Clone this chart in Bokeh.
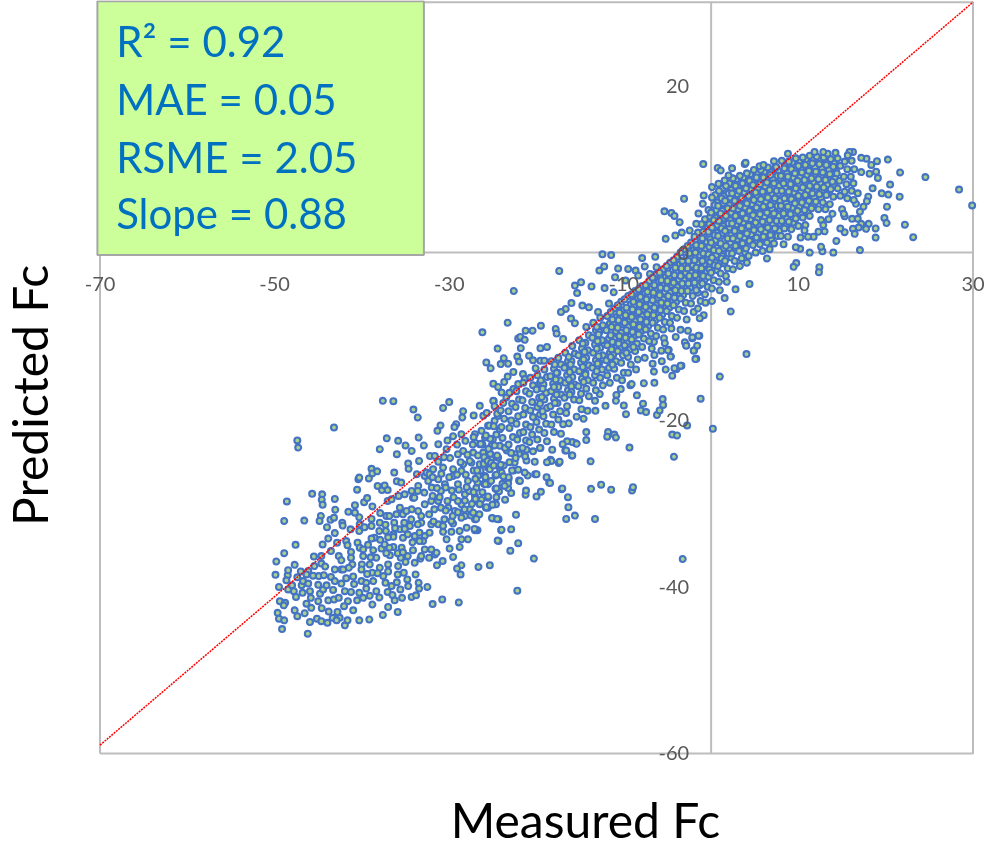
from bokeh.plotting import figure
from bokeh.embed import file_html
from bokeh.resources import INLINE
from bokeh.models import Range1d, FixedTicker, BoxAnnotation, Label, ColumnDataSource

# (measured, predicted), region by region
points_low = [(-43.2,-20.95),(-47.4,-22.5),(-47.3,-23.35),(-37.6,-17.75),(-36.4,-17.8),(-34.1,-18.8),(-33.6,-19.75),(-30.7,-18.6),(-30,-17.9),(-28.4,-19),(-28.5,-19.75),(-26.5,-18.35),(-24.9,-17.8),(-27.2,-19.5),(-26.1,-19.55),(-24.4,-19.55),(-31,-20.7),(-31.35,-21.35),(-29.2,-20.55),(-29.4,-20.9),(-33.5,-22.15),(-37.15,-22.25),(-35.85,-22.55),(-35,-23.1),(-32.9,-23.1),(-37.95,-23.55),(-34.3,-23.75),(-36,-24.15),
(-49.8,-37),(-49.9,-38.6),(-48.9,-36),(-47.6,-35),(-48.9,-32.15),(-46.6,-32.1),(-48.6,-29.8),(-45.7,-28.9),(-44.55,-28.95),(-44.6,-29.6),(-44.5,-30.2),(-43.1,-29.5),(-43.05,-30.8),(-44.7,-31.55),(-44.85,-32.15),(-43.6,-32),(-43.2,-31.75),(-44,-32.9),(-42.25,-32.35),(-42.2,-32.7),(-41.55,-31.05),(-40.8,-31.15),(-40.8,-30.25),(-40.55,-28.4),(-40.4,-27.15),(-40.3,-26.95),(-39.2,-27.05),(-38.9,-25.9),(-38.8,-26.45),(-38.25,-26.2),(-36.3,-26.35),(-38.2,-27.95),(-37.7,-28.45),(-37.4,-27.9),(-37.05,-28.45),(-36,-27.4),(-35.5,-27.55),(-39.75,-29.9),(-39.4,-29.4),(-38.8,-30.4),(-37.05,-29.75),(-36.6,-29.55),(-35.8,-29.15),(-35.1,-28.95),(-35.65,-30.55),(-34.3,-28.55),(-33.55,-27.95),(-32.8,-26.75),(-32.6,-26.35),(-31.85,-25.95),(-33.7,-26.55),
(-49.65,-43.15),(-49.5,-43.85),(-48.9,-44.05),(-49.15,-45.1),(-46.2,-45.65),(-45.95,-44.25),(-45.15,-43.85),(-44.65,-44.15),(-43.95,-44.35),(-43.35,-43.75),(-42.8,-43.05),(-42.55,-43.75),(-42.9,-44.05),(-41.95,-44.65),(-41.65,-44.05),(-40.3,-44.05),(-39.15,-43.95),(-47.7,-42.85),(-47.4,-43.55),(-46.55,-43.2),(-49.4,-41.75),(-48.8,-41.95),(-48.95,-42.25),(-49.5,-40.05),(-48.45,-40.35),(-48,-39.85),(-47.8,-40.55),(-47.55,-41.25),(-48.5,-38.65),(-48.45,-38.05),(-48.65,-39.25),
(-46.9,-39.85),(-46.75,-39.35),(-46.8,-40.75),(-46.15,-39.65),(-45.95,-40.55),(-45.85,-41.35),(-46.35,-42.05),(-45.8,-42.55),(-45,-41.75),(-44.8,-40.85),(-44.45,-40.35),(-44.05,-39.85),(-44.95,-38.75),(-44.35,-38.65),(-43.55,-38.85),(-43.1,-37.95),(-42.35,-37.95),(-42.65,-36.35),(-42.35,-36.85),(-43.1,-39.35),(-42.35,-39.65),(-41.95,-40.55),(-41.25,-40.65),(-40.3,-40.75),(-41.6,-41.75),(-42.05,-42.35),(-41,-42.85),(-40.55,-41.65),(-39.85,-41.35),(-43.85,-41.65),(-43.2,-41.55),(-42.65,-41.35),
(-44.65,-36.35),(-44.65,-37.25),(-45.45,-37.55),(-46.15,-38.15),(-46.35,-38.55),(-44.5,-34.95),(-43.55,-35.75),(-43.85,-34.25),(-42.85,-34.75),(-41.8,-34.55),(-41.65,-35.05),(-41.3,-33.15),(-40.25,-32.55),(-40.3,-33.35),(-40.5,-34.75),(-40.25,-35.35),(-39.85,-35.55),(-41.25,-35.85),(-41.25,-36.55),(-39.85,-36.35),(-41.1,-37.35),(-40,-37.35),(-40.05,-37.95),(-41.5,-37.75),(-42.15,-37.95),
(-38.9,-32.75),(-37.95,-32.35),(-37.2,-31.55),(-36.05,-31.35),(-35.3,-31.35),(-34.3,-30.75),(-33.2,-31.55),(-33.55,-30.95),(-38.55,-34.15),(-38.9,-34.25),(-36.4,-33.75),(-36.4,-34.05),(-35.3,-34.15),(-35.65,-33.15),(-34.5,-32.75),(-33.2,-32.35),(-32.05,-32.55),(-38.7,-35.65),(-37.75,-35.45),(-36.4,-35.25),(-35.45,-35.35),(-38.35,-36.55),(-36.8,-36.25),(-39.1,-37.35),(-37.95,-37.75),(-37,-37.35),(-35.85,-37.55),(-35.55,-36.55),
(-35,-37.05),(-33.95,-37.15),(-33.3,-36.65),(-32.3,-36.55),(-31.65,-36.15),(-30.75,-36.95),(-31.4,-37.45),(-28.6,-37.45),(-29.1,-37.85),(-28.7,-38.55),(-26.65,-37.65),(-25.35,-37.45),(-38.8,-38.35),(-37.55,-38.75),(-37.3,-39.55),(-36.6,-39.95),(-35.9,-38.55),(-35.2,-38.35),(-34.8,-39.15),(-33.85,-38.55),(-34.7,-39.95),(-33.5,-39.55),(-32.5,-40.05),(-33.45,-40.25),(-40.05,-39.35),(-39.5,-39.55),(-38.7,-39.35),(-38.35,-40.55),(-39.5,-40.25),(-37.05,-40.65),(-35.6,-40.35),(-38.8,-42.15),(-37,-42.45),(-36.25,-41.65),(-35.4,-41.35),(-34.3,-41.25),(-33.8,-41.05),(-35.9,-43.05),(-31.9,-42.1),(-30.8,-41.55),(-28.9,-41.9),
(-33.95,-33.95),(-33.4,-33.55),(-32.8,-33.95),(-33,-34.55),(-34.15,-35.65),(-32.8,-35.55),(-32.05,-35.55),(-31.45,-35.95),(-30.3,-34.35),(-29.95,-35.45),(-29.55,-36.45),(-28.8,-35.25),(-28.6,-34.35),(-27.85,-34.35),(-26.75,-33.25),(-27.05,-33.25),(-25,-31.85),(-24.35,-31.95),(-24.35,-34.55),(-24.05,-33.25),(-31.25,-32.55),(-30.7,-32.75),(-29.55,-32.45),(-28.8,-33.35),(-28,-32.95),(-29.75,-33.45),(-30.7,-33.45),
(-32.4,-27.35),(-32,-28.15),(-31.25,-27.15),(-30.5,-27.75),(-29.55,-26.75),(-28.6,-26.15),(-27.45,-25.15),(-26.5,-25.35),(-25.55,-25.75),(-24.4,-24.55),(-29,-27.75),(-27.85,-27.35),(-26.7,-26.75),(-25.9,-26.75),(-25.55,-27.75),(-24.2,-26.55),(-28.2,-28.95),(-27.05,-29.15),(-25.55,-29.35),(-24.4,-28.55),(-28.6,-30.15),(-27.65,-30.75),(-26.5,-30.15),(-25.55,-30.55),(-24.9,-30.15),(-31.25,-29.75),(-30.1,-30.55),(-29.35,-30.95),(-28.2,-31.55),(-32.05,-29.75),(-32.8,-30.15),(-34.15,-29.35),(-34.9,-30.95),(-29.75,-32.15),(-28.6,-31.75),(-27.05,-31.95),
(-31.25,-22.95),(-30.2,-22.5),(-29.55,-22),(-28.6,-21.75),(-28.15,-22.55),(-27.05,-21.75),(-26.3,-21.35),(-25.55,-20.75),(-24.8,-20.15),(-24.2,-21.15),(-25.9,-22.15),(-25,-22.35),(-26.5,-22.95),(-27.05,-22.75),(-25.15,-23.15),(-26.1,-23.95),(-24.2,-23.15),(-27.25,-23.95),(-28.4,-23.75),(-29,-24.15),(-30.3,-23.55),(-32.2,-24.35),(-31.65,-24.35),(-33.45,-24.95),(-34.7,-25.25),(-34.65,-25.9),(-31.25,-25.05),(-30.7,-25.75),(-29.55,-25.95),(-28.4,-25.35),(-27.65,-24.95),(-25.2,-24.75),(-24.2,-25.75),
(-32.25,-26.55),(-32.85,-28.75),(-33.6,-28.55),(-34,-29.35),(-31.9,-29.15),(-30.95,-28.55),(-30.4,-28.15),(-30.2,-29.75),(-30.95,-30.55),(-31.7,-30.75),(-32.3,-31.35),(-30.55,-31.95),(-29,-29.75),(-27.7,-28.55),(-26.75,-27.55),(-25.2,-27.35),(-27.1,-29.75),(-28.25,-30.75),(-26.55,-31.35),(-25.8,-30.55),(-24.65,-30.15),(-29.6,-31.55),(-33.6,-32.55),(-34.35,-31.95),(-35.15,-32.35),(-36.3,-32.35),(-36.85,-31.55),(-38,-33.35),(-37.25,-33.35),(-34.75,-33.75),(-32.25,-33.55),(-33.4,-34.55),(-34.75,-36.35),(-33.2,-36.35),(-37.4,-34.95),(-36.85,-35.35)]

points_low_fill = [(-29.9,-24.6),(-29.1,-23),(-28.7,-25.1),(-27.9,-24.2),(-27.3,-23),(-26.7,-24.3),(-26.2,-23),(-30.6,-24.5),(-31.9,-26.9),(-30.9,-26.5),(-30,-26.9),(-29.1,-26.6),(-28.1,-26.6),(-27.2,-26.1),(-26.4,-26.1),(-31.4,-28.2),(-29.7,-28.5),(-28.9,-28.4),(-28,-28.1),(-26.9,-28.2),(-26.2,-28.7),(-31.1,-29.3),(-29.5,-29.3),(-28.2,-29.7),(-26.3,-29.6),(-30.4,-30.9),(-27.4,-30.1),(-29,-31.1),(-27.5,-31.5),(-31.8,-32.2),
(-37.9,-31.2),(-38.9,-31.9),(-39.7,-32.9),(-37.3,-32.6),(-36.2,-33),(-35.1,-33.1),(-37.9,-34.4),(-37,-34.1),(-39.3,-35),(-37.2,-36),(-35.9,-36),(-34.2,-34.7),(-35.3,-35.9),(-39,-36.5),(-38.2,-38.4),(-37,-38.2),(-39.4,-38.5),(-41,-38.8),(-41.8,-39),(-40.9,-39.7),(-36,-39.5),(-36.5,-41),(-38,-41.3),(-39.1,-41.1),(-37.6,-43.4),(-44.6,-42.6),(-43.8,-43),(-47.4,-38.9),(-47,-38.2),(-45.6,-38.7),(-47.7,-37.4),(-45,-39.8),(-43.3,-40.4),(-44.2,-37.6),(-45.5,-36.4),(-43.1,-33.6),(-40.3,-31.7)]

points_lower_band = [(-3.25,-36.7),(-22.2,-40.5),(-20.3,-36.65),(-23,-35.7),(-22.1,-34.8),(-24.45,-34.5),(-24,-33.2),(-22.9,-33.15),(-26.9,-33.2),(-27.1,-33.1),(-25.1,-31.8),(-24.5,-31.9),(-22.35,-31.4),(-26.9,-31.9),(-27.25,-31.15),(-25.75,-30.5),(-25.05,-30.2),(-26.5,-30.1),(-23.6,-29.6),(-24.6,-29.3),(-25.55,-29.2),(-22.9,-28.8),(-23.25,-28.2),(-24.3,-28.6),(-24.7,-28.3),(-23.9,-27.7),(-21.25,-29),(-21.2,-28.5),(-20,-29.2),(-19.5,-28.65),(-22,-27.3),(-23.2,-27.1),(-26,-27.7),(-25.85,-26.9),(-18.55,-27.55),(-18.85,-26.9),(-20.15,-26.55),(-21,-26.7),(-17.1,-28.35),(-16.4,-29.3),(-16.35,-30.5),(-16.6,-31.9),(-15.6,-31.5),(-13.3,-31.9),(-13.75,-28.3),(-12.6,-27.8),(-11.45,-28.4),(-9.05,-28.5),(-8.95,-28.1),(-18.4,-24.8),(-17.45,-25.2),(-15.95,-24.3),(-16.7,-23.7),(-15.5,-22.85),(-15.9,-22.7),(-16.5,-22.6),(-18.2,-23.6),(-19.55,-23.4),(-21.15,-23.6),
(-26,-24.5),(-25.3,-24.1),(-23.75,-25.5),(-22.6,-26.1),(-23.2,-26.9),(-24.7,-26.7),(-24.15,-26.1),(-26.8,-26.1),(-27,-27.1),(-27.2,-28.7),(-27,-29.5),(-26.05,-25.3),(-22,-24.1),(-23.4,-23.7),(-25.3,-22.3),(-26.4,-22.9),(-27.2,-22.1)]

points_mid = [(-17.4,-2.2),(-22.6,-4.6),(-12.45,-0.2),(-11.45,-0.3),(-7.9,-0.65),(-6.4,-0.5),(-12.8,-2.15),(-12.25,-1.65),(-10.65,-1.9),(-7.6,-1.65),(-8.65,-2.15),(-9.5,-1.95),(-15.6,-3.95),(-14.9,-3.55),(-15.35,-4.85),(-13.7,-4.05),(-12.2,-4.25),(-11,-2.95),(-11.15,-4.75),(-9.8,-3.35),(-8.35,-2.75),(-7,-2.55),(-6.25,-1.75),
(-16,-6.05),(-16.65,-6.75),(-17.2,-7.1),(-14.75,-6.35),(-14,-6.55),(-12.95,-7.1),(-11.7,-6.1),(-10.65,-6.35),(-16.05,-7.9),(-15.6,-8.45),(-23.3,-8.4),(-19.5,-8.75),(-21.25,-9.35),(-20.45,-9.35),(-17.8,-9.15),(-17.7,-9.7),(-26.2,-9.55),(-16.95,-10.35),(-22.1,-10.3),(-21.85,-10.1),(-21.35,-10.45),(-24.45,-11.5),(-21.8,-11.45),(-19.55,-11.45),(-18.8,-11.3),
(-25.75,-13.15),(-25.25,-13.85),(-23.75,-12.65),(-24.1,-13.35),(-23.25,-13.3),(-22.2,-12.45),(-22,-13.05),(-20.85,-12.35),(-20.4,-12.9),(-19.55,-12.95),(-19.1,-12.95),(-20.1,-13.85),(-22.65,-14.3),(-23.3,-14.85),(-23.7,-15.5),(-24.95,-15.7),(-24.4,-16.1),(-21.55,-14.55),(-21.35,-15.15),(-22.1,-15.75),(-22.65,-16.35),(-24,-16.75),(-23.45,-17.35),(-24.95,-17.75),
(0.2,-21.1),(-1.2,-17.5),(1,-14.85),(-2.75,-20.7),(-4.25,-24.45),(-4.45,-21.8),(-3.9,-21.9),(-5.55,-17.55),(-5.5,-18.25),(-6.2,-19.45),(-5.9,-18.9),(-7.8,-18.1),(-8.05,-18.9),(-7.45,-19.1),(-8.5,-17.1),(-10,-18.3),(-9.75,-19.35),(-9.35,-23.35),(-11.8,-21.5),(-11.9,-22.05),(-11.1,-21.8),(-10.9,-22.15),(-13.8,-25),(-14.3,-21.5),(-14.3,-22.45),(-17.05,-28.25),(-18.45,-27.6),(-20,-26.55),(-21.35,-26.35),(-21.9,-27.35),(-23.25,-27.65),(-23.65,-27.95),(-24.6,-28.25),(-25.85,-27.75),(-17.35,-25.05),(-18.3,-24.95),(-18.8,-25.1),(-20.2,-25.05),(-21.15,-24.9),(-22.5,-25.15),(-22.5,-24.15),(-24.4,-24.55),(-25.35,-25.95),(-24,-26.35),(-25.6,-24.95),
(-4.45,-14.75),(-3.95,-13.95),(-3.4,-13.55),(-5.2,-14),(-6.5,-15.6),(-7.7,-15.65),(-9.25,-15.9),(-9.1,-15.75),(-10.35,-16.35),(-10.85,-17.05),(-10.9,-17.75),(-13.3,-17.75),(-12.75,-16.95),(-12.1,-18.35),(-14.85,-18.75),(-14.15,-18.95),(-13.25,-18.95),(-15.4,-19.65),(-14.6,-19.9),(-16.3,-20.45),(-16.95,-20.55),(-15.4,-22.9),(-15.9,-24.3),(-16.6,-23.7),(-17,-22.95),(-1.7,-12.7),(-1.95,-11.7),(-1.6,-11.15),(-2.85,-11.1),(-3,-10.75),(-2.15,-10.25),(-1.35,-9.95),(-2.65,-9.35),(-3.5,-9.25),(-4.05,-10.1),(-4.55,-9.1),(-5.4,-10.25),(-5.3,-10.85),(-6.55,-10.7),(-5.7,-11.75),(-4.85,-11.65),(-4.6,-12.45),(-5.65,-13),(-6.5,-12.25),(-6.7,-13.3),(-6.55,-14.25)]

points_high = [(29.9,5.65),(28.4,7.55),(24.55,9.05),(21.65,9.6),(20.25,11.15),(19,10.95),(17.8,11.25),(17.2,11.35),(18.35,10.5),(16.25,12.05),(15.85,12.05),(15.65,11.65),(14.25,11.95),(13.35,11.85),(12.85,12.05),(11.85,12.05),(8.8,11.85),(18.9,9.7),(19.1,8.95),(18.15,9.45),(17.2,9.65),(20.5,8.15),(19.55,7.1),(20.3,6.95),(21.6,6.7),(18.5,7.7),(18,6.7),(17.85,6.15),(20.15,5.5),(17.45,5.5),(19.85,4.15),(20.1,3.55),(22.2,3.35),(23.15,1.85),(18.85,2.9),(18.85,1.8),(18.05,3.45),(17.05,0.3),
(17.05,4.9),(16.6,5.85),(16.35,6.3),(16.8,7.1),(16.15,4.05),(16.8,4.05),(17.2,3.45),(17.75,2.85),(16.9,3),(16.25,2.85),(16.45,2.25),(15.3,2.45),(14.8,2.9),(15.3,4.35),(15,5.2),(15.2,4.65),(14.35,1.4),(14,0),(12.75,0.15),(12.6,0.7),(13,2.55),(12.3,2.5),(11.75,1.9),(11.1,1.9),(10.7,2.65),(10.25,1.8),(11.3,0),(10.2,0.45),(9.7,0.65),(12.6,3.9),(12.85,3.3),(13.45,4),(13.9,4.65),(9.75,-1.25),(9.45,-1.7),(12.4,-1.75),(12.35,-2.35),(6.4,-0.7),
(4.4,-3.75),(2.8,-4.4),(1.8,-3.5),(1.55,-5.45),(1,-4.5),(0.1,-5.8),(-0.65,-6),(2.25,-7.05),(-0.85,-7.5),(-1.3,-7.85),(4.05,-12.15),(-1.45,-9.95),(-2.15,-10.15),(-2.85,-11.15),(-2,-11.75),(-1.8,-12.75),(-3.5,-13.55),(-4.2,-13.85),(-4.65,-12.45),(-4.95,-11.7),(-0.9,10.6),(0.75,10.15),(1.1,9.85),(2.4,10.1),(3.85,10.6),(3.95,10.75),(5.55,10.35),(6,10.5),(7.2,10.95),(7.45,10.25),(2,9.25),(1.55,8.65),(0.85,8.25),(0.1,7.85),(-0.85,6.85),(-0.95,5.85),(-1.45,4.7),(-1.7,3.45),(-2.45,2.65),(-3.1,6.45),(-5.35,4.95),(-4.55,4.75),(-4.2,4.4),(-3.6,3.65),(-4.1,2.05),(-3.35,2.4),(-5.2,1.65)]

points_core_left = [(-25.7,-19.2),(-25.4,-20.7),(-25.8,-21.9),(-25.5,-23.5),(-25.2,-25.2),(-24.8,-18.4),(-24.5,-19.3),(-24.9,-20.8),(-24.6,-21.8),(-24.8,-23.1),(-24.5,-24.3),(-24.9,-25.5),(-24.6,-26.6),(-23.8,-18),(-24.1,-18.9),(-23.7,-19.9),(-24,-20.9),(-23.9,-22.2),(-23.6,-23.4),(-24.1,-25.4),(-23.8,-26.8),(-23.1,-16.8),(-22.8,-18.1),(-23.2,-19),(-22.9,-20.1),(-23.1,-21),(-22.7,-22.1),(-23.2,-23),(-22.9,-24),(-23.1,-25.1),(-22.8,-26.1),
(-22.3,-16.6),(-22,-17.6),(-22.4,-18.5),(-22.1,-19.6),(-22.3,-20.5),(-21.9,-21.6),(-22.2,-22.4),(-22,-23.5),(-22.4,-24.6),(-22.1,-26),(-21.5,-15.6),(-21.2,-16.6),(-21.6,-17.7),(-21.3,-18.6),(-21.5,-19.4),(-21.2,-20.6),(-21.5,-21.5),(-21.2,-22.5),(-21.6,-23.4),(-21.3,-24.4),(-20.7,-15),(-20.4,-15.9),(-20.8,-16.9),(-20.5,-17.9),(-20.7,-18.9),(-20.4,-19.7),(-20.7,-20.9),(-20.5,-21.8),(-20.8,-22.7),(-20.4,-23.8),
(-19.9,-14.7),(-19.6,-15.6),(-20,-16.4),(-19.7,-17.4),(-19.9,-18.5),(-19.6,-19.4),(-20,-20.3),(-19.7,-21.2),(-19.9,-22.4),(-19.6,-23.4),(-19.1,-14),(-18.8,-14.9),(-19.2,-15.8),(-18.9,-16.8),(-19.1,-17.6),(-18.8,-18.6),(-19.2,-19.6),(-18.9,-20.5),(-19.1,-21.6),(-18.8,-22.6),(-18.3,-13),(-18,-13.9),(-18.4,-14.8),(-18.1,-15.7),(-18.3,-16.6),(-18,-17.5),(-18.4,-18.4),(-18.1,-19.4),(-18.3,-20.6),(-18,-21.5),
(-17.5,-12.6),(-17.2,-13.4),(-17.6,-14.4),(-17.3,-15.3),(-17.5,-16.1),(-17.2,-17),(-17.6,-18),(-17.3,-19),(-17.5,-20),(-17.2,-21.7),(-16.7,-12),(-16.4,-13),(-16.8,-13.8),(-16.5,-14.7),(-16.7,-15.6),(-16.4,-16.5),(-16.8,-17.4),(-16.5,-18.4),(-16.6,-19.2),(-15.9,-11.2),(-15.6,-12.1),(-16,-13),(-15.7,-14),(-15.9,-14.9),(-15.6,-15.8),(-16,-16.7),(-15.7,-17.6),(-15.1,-10.5),(-14.8,-11.5),(-15.2,-12.3),(-14.9,-13.2),(-15.1,-14.2),(-14.8,-15.1),(-15.2,-16),(-14.9,-16.9),(-15.1,-17.7),
(-14.3,-8.9),(-14,-9.9),(-14.4,-10.8),(-14.1,-11.7),(-14.3,-12.6),(-14,-13.5),(-14.4,-14.4),(-14.1,-15.3),(-14.3,-16.3),(-14,-17.2),(-13.5,-8.4),(-13.2,-9.3),(-13.6,-10.2),(-13.3,-11),(-13.5,-12),(-13.2,-12.9),(-13.6,-13.8),(-13.3,-14.7),(-13.5,-15.6),(-13.2,-16.5),(-12.7,-7.8),(-12.4,-8.7),(-12.8,-9.5),(-12.5,-10.5),(-12.7,-11.4),(-12.4,-12.3),(-12.8,-13.2),(-12.5,-14),(-12.7,-15),(-12.4,-15.9),
(-11.9,-7.6),(-11.6,-8.5),(-12,-9.3),(-11.7,-10.3),(-11.9,-11.1),(-11.6,-12),(-12,-12.9),(-11.7,-13.8),(-11.9,-14.7),(-11.6,-15.6),(-11.1,-6.7),(-10.8,-7.7),(-11.2,-8.5),(-10.9,-9.4),(-11.1,-10.3),(-10.8,-11.2),(-11.2,-12.2),(-10.9,-13),(-11.1,-13.9),(-10.8,-15),(-10.3,-5.9),(-10,-6.9),(-10.4,-7.7),(-10.1,-8.6),(-10.3,-9.6),(-10,-10.5),(-10.4,-11.4),(-10.1,-12.3),(-10.3,-13.2),(-10,-14.4),(-10.2,-15.3),
(-9.5,-5.2),(-9.2,-6.2),(-9.6,-7.1),(-9.3,-8),(-9.5,-8.9),(-9.2,-9.8),(-9.6,-10.7),(-9.3,-11.6),(-9.5,-12.5),(-9.2,-13.4),(-9.5,-14.4),(-8.7,-4.6),(-8.4,-5.5),(-8.8,-6.4),(-8.5,-7.3),(-8.7,-8.2),(-8.4,-9.1),(-8.8,-10),(-8.5,-10.9),(-8.7,-11.8),(-8.4,-12.8),(-8.6,-14),(-7.9,-4),(-7.6,-4.9),(-8,-5.9),(-7.7,-6.8),(-7.9,-7.6),(-7.6,-8.5),(-8,-9.4),(-7.7,-10.3),(-7.9,-11.3),(-7.6,-12.6),
(-7.1,-3.4),(-6.8,-4.3),(-7.2,-5.2),(-6.9,-6.1),(-7.1,-7),(-6.8,-7.9),(-7.2,-8.8),(-6.9,-9.7),(-7.1,-10.6),(-6.8,-11.5),(-6.3,-2.6),(-6,-3.5),(-6.4,-4.5),(-6.1,-5.4),(-6.3,-6.3),(-6,-7.2),(-6.4,-8.1),(-6.1,-9),(-6.3,-10),(-5.5,-2),(-5.2,-2.9),(-5.6,-3.8),(-5.3,-4.7),(-5.5,-5.6),(-5.2,-6.5),(-5.6,-7.4),(-5.3,-8.3),(-5.5,-9.2),
(-4.7,-1.2),(-4.4,-2.1),(-4.8,-3),(-4.5,-3.9),(-4.7,-4.8),(-4.4,-5.7),(-4.8,-6.6),(-4.5,-7.6),(-4.7,-8.4),(-3.9,-0.5),(-3.6,-1.4),(-4,-2.3),(-3.7,-3.2),(-3.9,-4.1),(-3.6,-5),(-4,-5.9),(-3.7,-6.8),(-3.9,-7.8),(-3.1,0.4),(-2.8,-0.6),(-3.2,-1.5),(-2.9,-2.4),(-3.1,-3.3),(-2.8,-4.2),(-3.2,-5.1),(-2.9,-6),(-3.1,-7),(-2.8,-8),
(-2.3,1.2),(-2,0.3),(-2.4,-0.6),(-2.1,-1.5),(-2.3,-2.4),(-2,-3.3),(-2.4,-4.2),(-2.1,-5.2),(-2.3,-6.1),(-2,-7.1),(-1.5,2.4),(-1.2,1.5),(-1.6,0.6),(-1.3,-0.3),(-1.5,-1.2),(-1.2,-2.1),(-1.6,-3),(-1.3,-3.9),(-1.5,-4.8),(-1.2,-5.8),(-1.5,-6.7),(-0.7,4),(-0.4,3.1),(-0.8,2.2),(-0.5,1.3),(-0.7,0.4),(-0.4,-0.5),(-0.8,-1.4),(-0.5,-2.3),(-0.7,-3.2),(-0.4,-4.1),(-0.7,-5)]

points_core_right = [(0.1,6.6),(0.4,5.7),(0,4.8),(0.3,3.9),(0.1,3),(0.4,2.1),(0,1.2),(0.3,0.3),(0.1,-0.6),(0.4,-1.5),(0,-2.4),(0.3,-3.3),(0.1,-4.3),(0.9,7.4),(1.2,6.5),(0.8,5.6),(1.1,4.7),(0.9,3.8),(1.2,2.9),(0.8,2),(1.1,1.1),(0.9,0.2),(1.2,-0.7),(0.8,-1.6),(1.1,-2.5),(0.9,-3.5),(1.7,8),(2,7.1),(1.6,6.2),(1.9,5.3),(1.7,4.4),(2,3.5),(1.6,2.6),(1.9,1.7),(1.7,0.8),(2,-0.1),(1.6,-1),(1.9,-1.9),(1.7,-2.8),
(2.5,8.9),(2.8,8),(2.4,7.1),(2.7,6.2),(2.5,5.3),(2.8,4.4),(2.4,3.5),(2.7,2.6),(2.5,1.7),(2.8,0.8),(2.4,-0.1),(2.7,-1),(2.5,-2),(3.3,9.2),(3.6,8.3),(3.2,7.4),(3.5,6.5),(3.3,5.6),(3.6,4.7),(3.2,3.8),(3.5,2.9),(3.3,2),(3.6,1.1),(3.2,0.2),(3.5,-0.7),(3.3,-1.6),(4.1,9.5),(4.4,8.6),(4,7.7),(4.3,6.8),(4.1,5.9),(4.4,5),(4,4.1),(4.3,3.2),(4.1,2.3),(4.4,1.4),(4,0.5),(4.3,-0.4),(4.1,-1.2),
(4.9,9.9),(5.2,9),(4.8,8.1),(5.1,7.2),(4.9,6.3),(5.2,5.4),(4.8,4.5),(5.1,3.6),(4.9,2.7),(5.2,1.8),(4.8,0.9),(5.1,0),(5.7,9.9),(6,9),(5.6,8.2),(5.9,7.3),(5.7,6.4),(6,5.5),(5.6,4.6),(5.9,3.7),(5.7,2.8),(6,1.9),(5.6,1),(5.9,0.2),(6.5,10.2),(6.8,9.3),(6.4,8.4),(6.7,7.5),(6.5,6.6),(6.8,5.7),(6.4,4.8),(6.7,3.9),(6.5,3),(6.8,2.1),(6.4,1.2),(6.7,0.4),
(7.3,10.1),(7.6,9.2),(7.2,8.3),(7.5,7.4),(7.3,6.5),(7.6,5.6),(7.2,4.7),(7.5,3.8),(7.3,2.9),(7.6,2),(7.2,1.1),(8.1,11),(8.4,10.1),(8,9.2),(8.3,8.3),(8.1,7.4),(8.4,6.5),(8,5.6),(8.3,4.7),(8.1,3.8),(8.4,2.9),(8,2),(8.3,1),(8.9,10.9),(9.2,10),(8.8,9.1),(9.1,8.2),(8.9,7.3),(9.2,6.4),(8.8,5.5),(9.1,4.6),(8.9,3.7),(9.2,2.8),(8.8,1.9),
(9.7,11.3),(10,10.4),(9.6,9.5),(9.9,8.6),(9.7,7.7),(10,6.8),(9.6,5.9),(9.9,5),(9.7,4.1),(10,3.2),(10.5,11.4),(10.8,10.5),(10.4,9.6),(10.7,8.7),(10.5,7.8),(10.8,6.9),(10.4,6),(10.7,5.1),(10.5,4.2),(10.8,3.3),(11.3,11.6),(11.6,10.7),(11.2,9.8),(11.5,8.9),(11.3,8),(11.6,7.1),(11.2,6.2),(11.5,5.3),(11.3,4.4),
(12.1,11.5),(12.4,10.6),(12,9.7),(12.3,8.8),(12.1,7.9),(12.4,7),(12,6.1),(12.3,5.2),(12.9,11.4),(13.2,10.5),(12.8,9.6),(13.1,8.7),(12.9,7.8),(13.2,6.9),(12.8,6),(13.1,5.2),(13.7,11.2),(14,10.3),(13.6,9.4),(13.9,8.5),(13.7,7.6),(14,6.7),(13.6,5.8),(14.5,11.3),(14.8,10.4),(14.4,9.5),(14.7,8.6),(14.5,7.7),(14.8,6.8),(15.3,10.9),(15.6,10),(15.2,9.1),(15.5,8.2),(15.3,7.3),(15.6,6.5),(16.1,11),(16.4,10),(16,9.1),(16.3,8.3),(16.1,7.4)]

points_core_fill = [(-19.5,-15.3),(-19.3,-16.3),(-19.4,-17.3),(-19.6,-18.1),(-19.3,-19),(-17.9,-13.4),(-17.7,-14.4),(-17.8,-15.2),(-18,-16.1),(-17.7,-17),(-17.9,-18),(-16.3,-12.5),(-16.1,-13.4),(-16.2,-14.3),(-16.3,-15.2),(-16,-16),(-16.2,-17),(-14.7,-10.9),(-14.5,-11.9),(-14.6,-12.8),(-14.7,-13.7),(-14.4,-14.6),(-14.6,-15.5),
(-13.1,-8.9),(-12.9,-9.8),(-13,-10.6),(-13.1,-11.5),(-12.9,-12.4),(-13,-13.3),(-13.1,-14.2),(-11.5,-7.1),(-11.3,-8),(-11.4,-8.9),(-11.5,-9.9),(-11.3,-10.7),(-11.4,-11.6),(-11.5,-12.5),(-11.3,-13.4),(-10.7,-6.3),(-10.5,-7.2),(-10.6,-8.1),(-10.7,-9),(-10.5,-10),(-10.6,-10.9),(-10.7,-11.8),(-9.9,-5.6),(-9.7,-6.6),(-9.8,-7.5),(-9.9,-8.4),(-9.7,-9.3),(-9.8,-10.2),(-9.9,-11.1),(-9.7,-12),
(-9.1,-5),(-8.9,-5.9),(-9,-6.8),(-9.1,-7.7),(-8.9,-8.6),(-9,-9.5),(-9.1,-10.4),(-8.9,-11.3),(-8.3,-4.4),(-8.1,-5.3),(-8.2,-6.2),(-8.3,-7.1),(-8.1,-8),(-8.2,-8.9),(-8.3,-9.8),(-7.5,-3.9),(-7.3,-4.7),(-7.4,-5.6),(-7.5,-6.5),(-7.3,-7.4),(-7.4,-8.3),(-7.5,-9.2),(-6.7,-3),(-6.5,-3.9),(-6.6,-4.8),(-6.7,-5.7),(-6.5,-6.6),(-6.6,-7.5),(-6.7,-8.4),
(-5.9,-2.4),(-5.7,-3.3),(-5.8,-4.2),(-5.9,-5.1),(-5.7,-6),(-5.8,-6.9),(-5.9,-7.8),(-5.1,-1.6),(-4.9,-2.5),(-5,-3.4),(-5.1,-4.3),(-4.9,-5.2),(-5,-6.1),(-5.1,-7),(-4.3,-0.9),(-4.1,-1.8),(-4.2,-2.7),(-4.3,-3.6),(-4.1,-4.5),(-4.2,-5.4),(-4.3,-6.3),(-3.5,0),(-3.3,-1),(-3.4,-1.9),(-3.5,-2.8),(-3.3,-3.7),(-3.4,-4.6),(-3.5,-5.5),
(-2.7,0.8),(-2.5,-0.1),(-2.6,-1),(-2.7,-1.9),(-2.5,-2.8),(-2.6,-3.7),(-2.7,-4.6),(-1.9,1.9),(-1.7,0.9),(-1.8,0),(-1.9,-0.9),(-1.7,-1.8),(-1.8,-2.7),(-1.9,-3.6),(-1.7,-4.5),(-1.1,3.4),(-0.9,2.5),(-1,1.7),(-1.1,0.8),(-0.9,-0.1),(-1,-1),(-1.1,-1.9),(-0.9,-2.8),(-1,-3.7),
(-0.3,5.1),(-0.1,4.3),(-0.2,3.4),(-0.3,2.5),(-0.1,1.6),(-0.2,0.7),(-0.3,-0.2),(-0.1,-1.1),(-0.2,-2),(-0.3,-2.9),(0.5,6.9),(0.7,6),(0.6,5.1),(0.5,4.2),(0.7,3.3),(0.6,2.4),(0.5,1.5),(0.7,0.6),(0.6,-0.3),(0.5,-1.2),(0.7,-2.1),(1.3,7.7),(1.5,6.8),(1.4,5.9),(1.3,5),(1.5,4.1),(1.4,3.2),(1.3,2.3),(1.5,1.4),(1.4,0.5),(1.3,-0.4),(1.5,-1.3),
(2.1,8.3),(2.3,7.5),(2.2,6.6),(2.1,5.7),(2.3,4.8),(2.2,3.9),(2.1,3),(2.3,2.1),(2.2,1.2),(2.1,0.3),(2.3,-0.6),(2.9,8.8),(3.1,7.9),(3,7),(2.9,6.1),(3.1,5.2),(3,4.3),(2.9,3.4),(3.1,2.5),(3,1.6),(2.9,0.7),(3.7,9),(3.9,8.1),(3.8,7.2),(3.7,6.3),(3.9,5.4),(3.8,4.5),(3.7,3.6),(3.9,2.7),(3.8,1.8),(3.7,0.9),(3.9,0),
(4.5,9.4),(4.7,8.5),(4.6,7.6),(4.5,6.7),(4.7,5.8),(4.6,4.9),(4.5,4),(4.7,3.1),(4.6,2.2),(4.5,1.3),(5.3,9.5),(5.5,8.6),(5.4,7.7),(5.3,6.8),(5.5,5.9),(5.4,5),(5.3,4.1),(5.5,3.2),(5.4,2.3),(5.3,1.4),(6.1,9.7),(6.3,8.8),(6.2,7.9),(6.1,7),(6.3,6.1),(6.2,5.2),(6.1,4.3),(6.3,3.4),(6.2,2.5),(6.1,1.6),
(6.9,9.7),(7.1,8.8),(7,7.9),(6.9,7),(7.1,6.1),(7,5.2),(6.9,4.3),(7.1,3.4),(7,2.5),(6.9,1.6),(7.7,9.8),(7.9,8.9),(7.8,8),(7.7,7.1),(7.9,6.2),(7.8,5.3),(7.7,4.4),(7.9,3.5),(7.8,2.6),(8.5,10.4),(8.7,9.5),(8.6,8.6),(8.5,7.7),(8.7,6.8),(8.6,5.9),(8.5,5),(8.7,4.1),(8.6,3.2),(9.3,10.8),(9.5,9.9),(9.4,9),(9.3,8.1),(9.5,7.2),(9.4,6.3),(9.3,5.4),(9.5,4.5),(9.4,3.6),
(10.1,11),(10.3,10),(10.2,9.1),(10.1,8.2),(10.3,7.3),(10.2,6.4),(10.1,5.5),(10.3,4.6),(10.9,11.2),(11.1,10.2),(11,9.3),(10.9,8.4),(11.1,7.5),(11,6.6),(10.9,5.7),(11.1,4.8),(11.7,11.2),(11.9,10.2),(11.8,9.3),(11.7,8.4),(11.9,7.5),(11.8,6.6),(11.7,5.7),(12.5,11),(12.7,10.1),(12.6,9.2),(12.5,8.3),(12.7,7.4),(12.6,6.5),(13.3,10.8),(13.5,9.9),(13.4,9),(13.3,8.1),(13.5,7.2),(14.1,10.7),(14.3,9.8),(14.2,8.9),(14.1,8)]

all_points = (points_low + points_low_fill + points_lower_band + points_mid + points_core_left
              + points_core_fill + points_core_right + points_high)
measured = [a for a, b in all_points]
predicted = [b for a, b in all_points]

fit_measured = [-70, 30]
fit_predicted = [-59, 30]
x_ticks = [-70, -50, -30, -10, 10, 30]
y_ticks = [-60, -40, -20, 0, 20]
stats = ["R² = 0.92", "MAE = 0.05", "RSME = 2.05", "Slope = 0.88"]
stat_y = [25.3, 18.4, 11.5, 4.7]

GREY = "#BDBDBD"
TICK = "#595959"
FONT = "Lato"

# The frame fills the whole canvas, so that nothing outside the plot area is clipped
p = figure(width=985, height=848,
           x_range=Range1d(-81.4, 31.43), y_range=Range1d(-71.38, 30.2),
           output_backend="svg", toolbar_location=None,
           min_border=0, outline_line_color=None, background_fill_color="white")
p.styles = {"position": "fixed", "left": "0px", "top": "0px"}
p.grid.visible = False

p.xaxis.fixed_location = 0
p.yaxis.fixed_location = 0
p.xaxis.ticker = FixedTicker(ticks=x_ticks)
p.yaxis.ticker = FixedTicker(ticks=y_ticks)
p.xaxis.major_label_overrides = {t: str(t) for t in x_ticks}
p.yaxis.major_label_overrides = {t: str(t) for t in y_ticks}
for ax in (p.xaxis[0], p.yaxis[0]):
    ax.axis_line_color = None
    ax.major_tick_line_color = None
    ax.minor_tick_line_color = None
    ax.major_tick_in = 0
    ax.major_tick_out = 0
    ax.major_label_text_color = TICK
    ax.major_label_text_font = FONT
    ax.major_label_text_font_size = "20px"
    ax.major_label_standoff = 22
p.xaxis[0].major_label_standoff = 24

# plot frame and the two zero lines, underneath the points
p.line([-70, 30, 30, -70, -70], [-60, -60, 30, 30, -60], line_color=GREY, line_width=2)
p.line([0, 0], [-60, 30], line_color=GREY, line_width=2)
p.line([-70, 30], [0, 0], line_color=GREY, line_width=2)

src = ColumnDataSource(dict(x=measured, y=predicted))
p.scatter("x", "y", source=src, size=5.9, line_width=2.1,
          line_color="#4472C4", fill_color="#A9D18E")
p.line(fit_measured, fit_predicted, line_color="#FF0000", line_width=1.5, line_dash="2 1")

p.add_layout(BoxAnnotation(left=-70.3, right=-32.9, bottom=-0.3, top=30.1,
                           fill_color="#CCFF99", fill_alpha=1,
                           line_color="#A6A6A6", line_width=2, line_alpha=1))
for s, y in zip(stats, stat_y):
    p.add_layout(Label(x=-68.15, y=y, text=s, text_font=FONT, text_font_size="42px",
                       text_color="#0070C0", text_baseline="middle"))

p.add_layout(Label(x=-14.4, y=-67.9, text="Measured Fc", text_font=FONT, text_font_size="48px",
                   text_color="black", text_align="center", text_baseline="middle"))
p.add_layout(Label(x=-78.05, y=-17.1, text="Predicted Fc", text_font=FONT, text_font_size="48px",
                   text_color="black", text_align="center", text_baseline="middle", angle=90, angle_units="deg"))

open("out.html", "w").write(file_html(p, INLINE))
